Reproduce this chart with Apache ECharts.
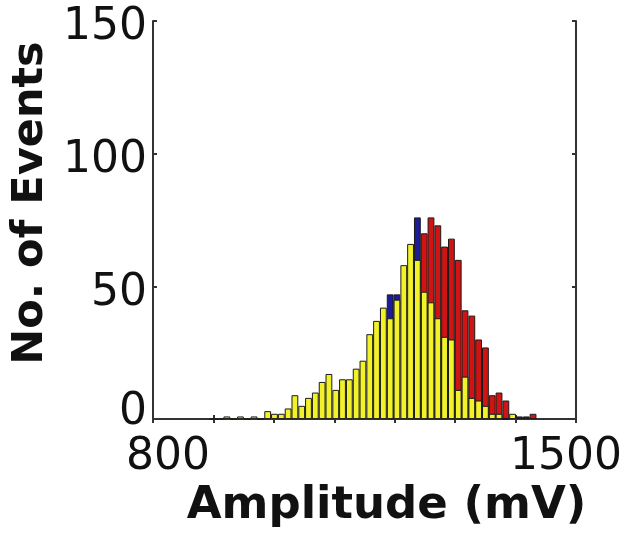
<!DOCTYPE html>
<html>
<head>
<meta charset="utf-8">
<script src="https://cdn.jsdelivr.net/npm/echarts@6/dist/echarts.min.js"></script>
<style>
html,body{margin:0;padding:0;background:#fff;}
#chart{width:625px;height:534px;}
</style>
</head>
<body>
<div id="chart"></div>
<script>
// Bin centres (mV)
const binCenters = [899.7, 911.0, 922.2, 933.5, 944.7, 956.0, 967.3, 978.5, 989.8, 1001.0,
  1012.3, 1023.6, 1034.8, 1046.1, 1057.3, 1068.6, 1079.9, 1091.1, 1102.4, 1113.6,
  1124.9, 1136.2, 1147.4, 1158.7, 1169.9, 1181.2, 1192.5, 1203.7, 1215.0, 1226.2,
  1237.5, 1248.8, 1260.0, 1271.3, 1282.5, 1293.8, 1305.1, 1316.3, 1327.6, 1338.8,
  1350.1, 1361.4, 1372.6, 1383.9, 1395.1, 1406.4, 1417.7, 1428.9];
// Counts (only the visible parts of the back histograms; null = hidden)
const blueCounts = [null, null, null, null, null, null, null, null, null, null,
  null, null, null, null, null, null, null, null, null, null,
  null, null, null, null, null, null, 47, 47, null, null,
  76, null, null, null, null, null, null, null, null, null,
  null, null, null, null, null, 1, 1, null];
const redCounts = [null, null, null, null, null, null, null, null, null, null,
  null, null, null, null, null, null, null, null, null, null,
  null, null, null, null, null, null, null, null, null, null,
  null, 70, 76, 73, 65, 68, 60, 41, 39, 30,
  27, 9, 10, 7, null, null, null, 2];
const yellowCounts = [0, 0, 1, 0, 1, 0, 1, 0, 3, 2,
  2, 4, 9, 5, 8, 10, 14, 17, 11, 15,
  15, 19, 22, 32, 37, 42, 38, 45, 58, 66,
  60, 48, 44, 38, 31, 30, 11, 16, 8, 7,
  5, 2, 2, 0, 2, null, null, null];
const xTickLabels = {800: '{a|800}', 1500: '{b|1500}'};
const yTickLabels = {0: '{z|0}', 50: '{n|50}', 100: '{n|100}', 150: '{n|150}'};

const zip = (arr) => binCenters.map((x, i) => [x, arr[i]]);

const chart = echarts.init(document.getElementById('chart'), null, {renderer: 'canvas'});
const axisLineStyle = {color: '#333', width: 2};
const tickFont = {fontFamily: 'DejaVu Sans', fontSize: 44, color: '#111'};
const nameFontX = {fontFamily: 'DejaVu Sans', fontWeight: 'bold', fontSize: 45, color: '#111', padding: [0, 0, 0, 44]};
const nameFontY = {fontFamily: 'DejaVu Sans', fontWeight: 'bold', fontSize: 43, color: '#111', padding: [0, 0, 0, 34]};

const barBase = {
  type: 'bar',
  barWidth: 6.8,
  barGap: '-100%',
  animation: false,
};

chart.setOption({
  animation: false,
  grid: {left: 153, right: 48, top: 21, bottom: 111, show: false},
  xAxis: [{
    type: 'value', min: 800, max: 1500, interval: 100, position: 'bottom',
    axisLine: {show: true, lineStyle: axisLineStyle},
    axisTick: {show: true, inside: true, length: 4, lineStyle: {color: '#333', width: 2}},
    splitLine: {show: false},
    axisLabel: {
      show: true, margin: 16, ...tickFont,
      formatter: (v) => xTickLabels[v] || '',
      rich: {a: {...tickFont, padding: [0, 0, 0, 30]}, b: {...tickFont, padding: [0, 20, 0, 0]}}
    },
    name: 'Amplitude (mV)', nameLocation: 'middle', nameGap: 64, nameTextStyle: nameFontX
  }, {
    type: 'value', min: 800, max: 1500, interval: 100, position: 'top',
    axisLine: {show: true, lineStyle: axisLineStyle},
    axisTick: {show: true, inside: true, length: 4, lineStyle: {color: '#333', width: 2}},
    splitLine: {show: false}, axisLabel: {show: false}
  }],
  yAxis: [{
    type: 'value', min: 0, max: 150, interval: 50, position: 'left',
    axisLine: {show: true, lineStyle: axisLineStyle},
    axisTick: {show: true, inside: true, length: 4, lineStyle: {color: '#333', width: 2}},
    splitLine: {show: false},
    axisLabel: {
      show: true, margin: 6, ...tickFont,
      formatter: (v) => yTickLabels[v] || '',
      rich: {z: {...tickFont, padding: [0, 0, 14, 0]}, n: {...tickFont, padding: [14, 0, 0, 0]}}
    },
    name: 'No. of Events', nameLocation: 'middle', nameGap: 89, nameRotate: 90, nameTextStyle: nameFontY
  }, {
    type: 'value', min: 0, max: 150, interval: 50, position: 'right',
    axisLine: {show: true, lineStyle: axisLineStyle},
    axisTick: {show: true, inside: true, length: 4, lineStyle: {color: '#333', width: 2}},
    splitLine: {show: false}, axisLabel: {show: false}
  }],
  series: [
    {...barBase, name: 'blue', data: zip(blueCounts), itemStyle: {color: '#1c1c96', borderColor: '#1a1a1a', borderWidth: 1}},
    {...barBase, name: 'red', data: zip(redCounts), itemStyle: {color: '#d01414', borderColor: '#1a1a1a', borderWidth: 1}},
    {...barBase, name: 'yellow', data: zip(yellowCounts), itemStyle: {color: '#f2f22a', borderColor: '#1a1a1a', borderWidth: 1}}
  ]
});
</script>
</body>
</html>
